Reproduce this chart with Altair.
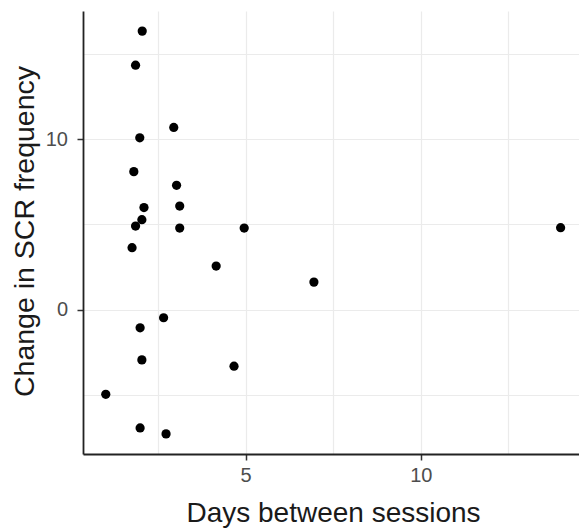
import altair as alt
import pandas as pd

# Days between the two sessions and the change in SCR frequency per participant
days = [2.05, 1.86, 1.98, 2.95, 1.81, 3.03, 3.12, 2.10, 2.04, 1.86, 3.12, 4.96,
        1.76, 4.16, 2.66, 1.99, 2.04, 4.67, 1.01, 1.99, 2.73, 6.95, 13.99]
change = [16.34, 14.34, 10.08, 10.69, 8.10, 7.30, 6.08, 5.99, 5.28, 4.91, 4.79, 4.79,
          3.64, 2.56, -0.47, -1.06, -2.94, -3.31, -4.96, -6.93, -7.28, 1.62, 4.81]

# grid positions (major + minor) and which ones carry labels
x_grid = [2.5, 5, 7.5, 10, 12.5]
y_grid = [-5, 0, 5, 10, 15]

df = pd.DataFrame({"days": days, "change": change})

FONT = "Liberation Sans"

x_axis = alt.Axis(
    values=x_grid,
    title="Days between sessions",
    labelExpr="datum.value % 5 === 0 ? datum.label : ''",
    tickOpacity={"condition": {"test": "datum.value % 5 === 0", "value": 1}, "value": 0},
    tickSize=6,
    labelPadding=5,
    titleX=250,
    titleY=67,
    titleAlign="center",
    titleBaseline="alphabetic",
)

y_axis = alt.Axis(
    values=y_grid,
    title="Change in SCR frequency",
    labelExpr="datum.value % 10 === 0 ? datum.label : ''",
    tickOpacity={"condition": {"test": "datum.value % 10 === 0", "value": 1}, "value": 0},
    tickSize=6,
    labelPadding=9.5,
    titleX=-50,
    titleY=220,
    titleAngle=270,
    titleAlign="center",
    titleBaseline="alphabetic",
    titleFontSize=28.5,
)

chart = (
    alt.Chart(df)
    .mark_circle(size=85, color="black", opacity=1)
    .encode(
        x=alt.X("days:Q", scale=alt.Scale(domain=[0.36, 14.515], nice=False, zero=False), axis=x_axis),
        y=alt.Y("change:Q", scale=alt.Scale(domain=[-8.46, 17.52], nice=False, zero=False), axis=y_axis),
    )
    .properties(
        width=496,
        height=443,
        autosize=alt.AutoSizeParams(type="none"),
        padding={"left": 83, "top": 11, "right": 0, "bottom": 75},
        background="white",
    )
    .configure_view(stroke=None)
    .configure_axis(
        grid=True,
        gridColor="#EBEBEB",
        gridWidth=1.2,
        domainColor="#222222",
        domainWidth=1.8,
        tickColor="#333333",
        tickWidth=1.5,
        labelFont=FONT,
        labelFontSize=20,
        labelColor="#4D4D4D",
        titleFont=FONT,
        titleFontSize=28,
        titleFontWeight="normal",
        titleColor="#1A1A1A",
    )
)

chart.save("out.html", embed_options={"renderer": "svg", "actions": False})
